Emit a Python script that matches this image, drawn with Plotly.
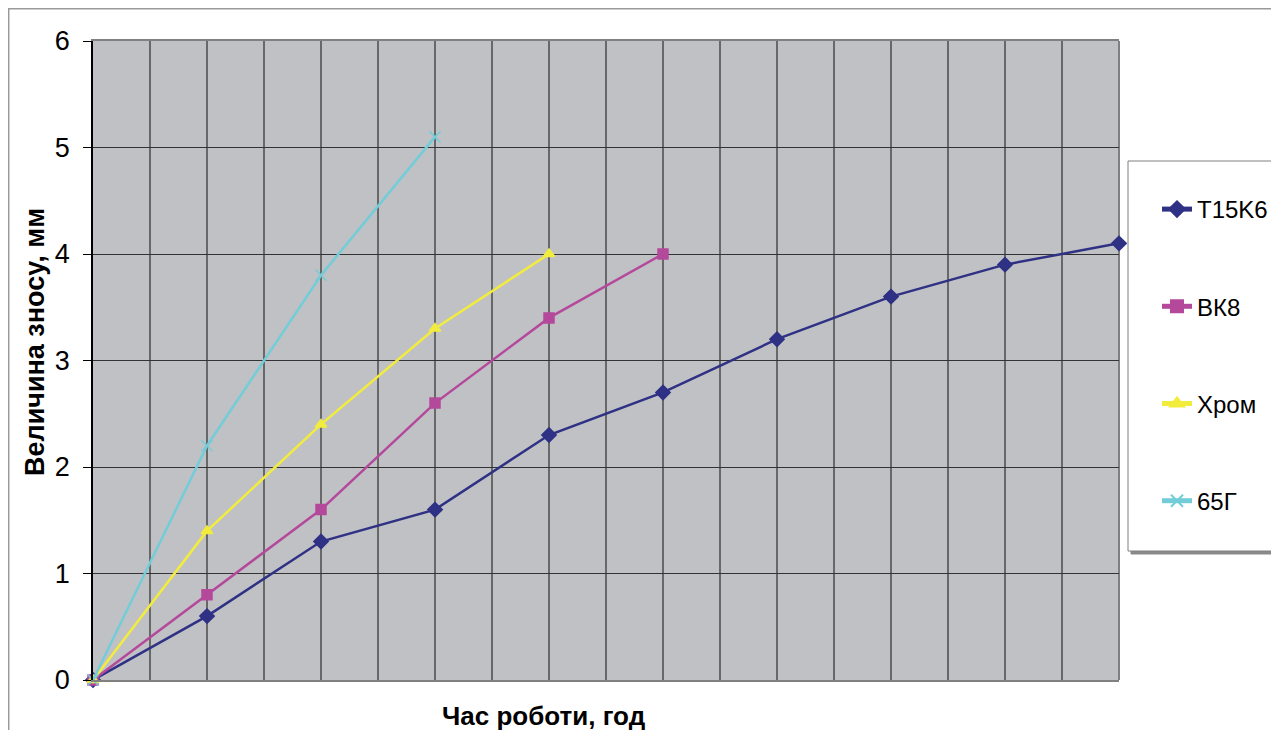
import plotly.graph_objects as go

hours = list(range(10))
series_names = ["T15K6", "ВК8", "Хром", "65Г"]
t15k6 = [0, 0.6, 1.3, 1.6, 2.3, 2.7, 3.2, 3.6, 3.9, 4.1]
vk8 = [0, 0.8, 1.6, 2.6, 3.4, 4.0]
chrome = [0, 1.4, 2.4, 3.3, 4.0]
g65 = [0, 2.2, 3.8, 5.1]
y_ticks = [0, 1, 2, 3, 4, 5, 6]

values = [t15k6, vk8, chrome, g65]
colors = ["#2E3184", "#B4499C", "#F2EC3C", "#72CDD8"]
symbols = ["diamond", "square", "triangle-up", "x-thin"]
sizes = [11, 10, 10, 11]

FONT = "Liberation Sans, Arial, sans-serif"

fig = go.Figure()
for name, vals, c, s, sz in zip(series_names, values, colors, symbols, sizes):
    fig.add_trace(go.Scatter(
        x=hours[:len(vals)], y=vals, name=name, mode="lines+markers",
        line=dict(color=c, width=2.5),
        marker=dict(symbol=s, size=sz, color=c, line=dict(color=c, width=1.5)),
        legendgroup=name, cliponaxis=False,
    ))

# page body has an 8px margin
OFF = 8
W, H = 1279 - 2 * OFF, 738 - 2 * OFF
L, T = 93 - OFF, 41 - OFF
R = W - (1119 - OFF)
B = H - (680 - OFF)
pw, ph = W - L - R, H - T - B

def px(x):
    return (x - OFF - L) / pw

def py(y):
    return (H - B - (y - OFF)) / ph

def cx(x):
    return (x - OFF) / W

def cy(y):
    return 1 - (y - OFF) / H

shapes = [
    # outer chart border
    dict(type="rect", xref="paper", yref="paper", x0=px(8.7), y0=py(760), x1=px(1300), y1=py(8.7),
         line=dict(color="#999999", width=1.5), fillcolor="rgba(0,0,0,0)", layer="below"),
    # legend shadow
    dict(type="rect", xref="paper", yref="paper", x0=px(1131), y0=py(554), x1=px(1280), y1=py(164),
         line=dict(color="#8a8a8a", width=1), fillcolor="#8a8a8a", layer="below"),
    # legend box
    dict(type="rect", xref="paper", yref="paper", x0=px(1128), y0=py(551), x1=px(1277), y1=py(161),
         line=dict(color="#808080", width=1), fillcolor="white", layer="below"),
    # right plot border
    dict(type="line", xref="paper", yref="paper", x0=1, x1=1, y0=0, y1=1,
         line=dict(color="#808080", width=2), layer="below"),
]

annotations = [
    dict(text="<b>Час роботи, год</b>", xref="paper", yref="paper", x=px(544), y=py(716),
         showarrow=False, font=dict(family=FONT, size=26, color="black"), xanchor="center", yanchor="middle"),
    dict(text="<b>Величина зносу, мм</b>", xref="paper", yref="paper", x=px(35), y=py(342),
         showarrow=False, textangle=-90, font=dict(family=FONT, size=27, color="black"),
         xanchor="center", yanchor="middle"),
]

fig.update_layout(
    width=W, height=H,
    margin=dict(l=L, r=R, t=T, b=B, autoexpand=False),
    paper_bgcolor="white", plot_bgcolor="#C0C1C5",
    font=dict(family=FONT, size=24, color="black"),
    showlegend=True,
    legend=dict(xref="container", yref="container", x=cx(1157), y=cy(187),
                xanchor="left", yanchor="top",
                bgcolor="rgba(0,0,0,0)", borderwidth=0,
                font=dict(family=FONT, size=24, color="black"),
                tracegroupgap=63, itemsizing="constant"),
    shapes=shapes, annotations=annotations,
    xaxis=dict(range=[0, 9], dtick=0.5, tick0=0, showticklabels=False, ticks="",
               showgrid=True, gridcolor="#686868", gridwidth=1.5,
               showline=True, linecolor="#808080", linewidth=2, mirror=True,
               zeroline=False, fixedrange=True),
    yaxis=dict(range=[0, 6], tickvals=y_ticks, ticks="outside", ticklen=8, tickcolor="black",
               ticklabelstandoff=8,
               showgrid=True, gridcolor="#333333", gridwidth=1,
               showline=True, linecolor="black", linewidth=1.5,
               zeroline=False, tickfont=dict(family=FONT, size=27, color="black"), fixedrange=True),
)

fig.write_html("out.html")
